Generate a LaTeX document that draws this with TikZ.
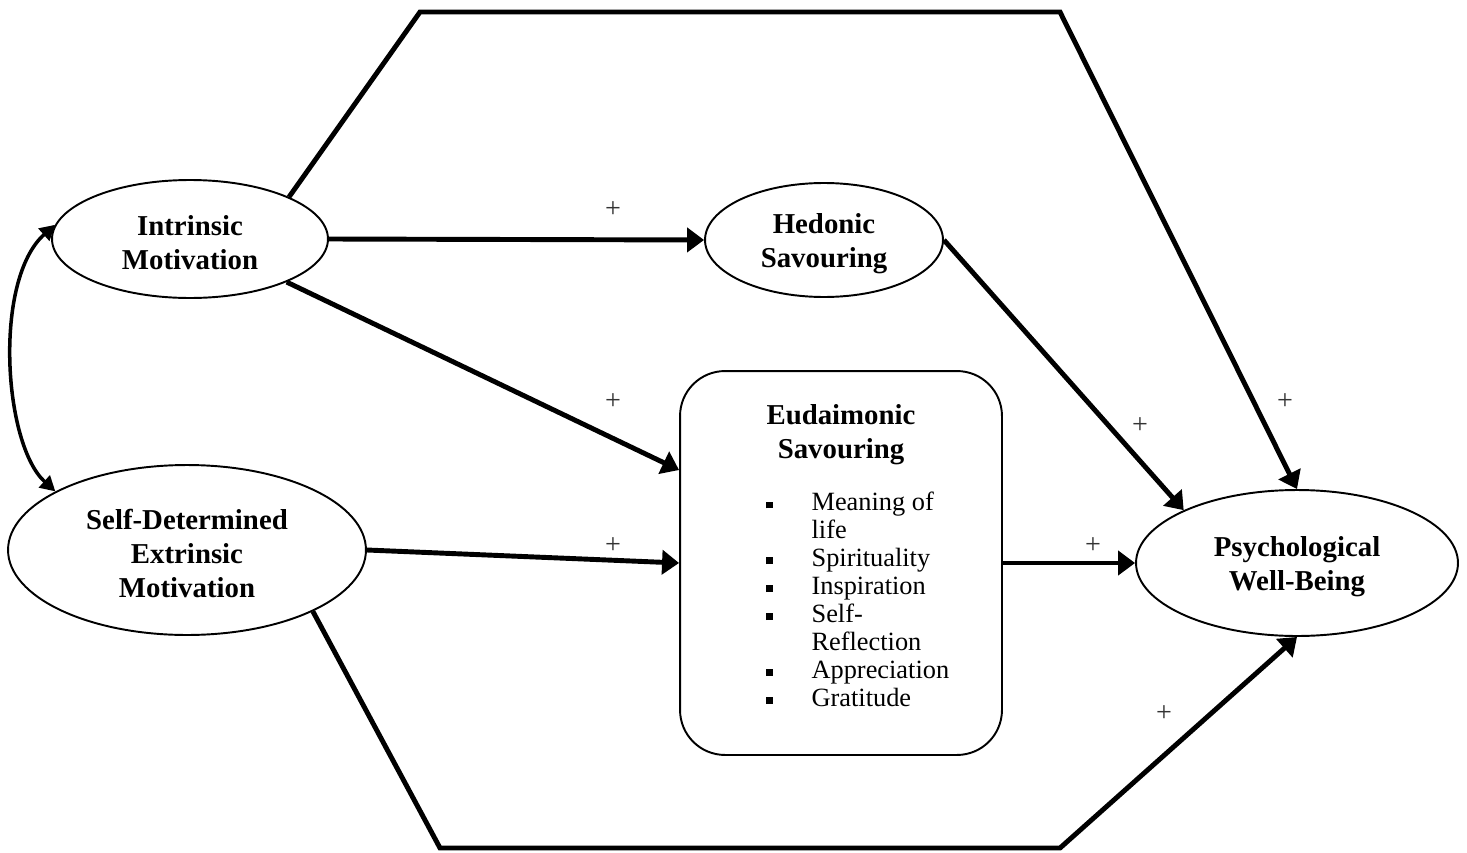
\documentclass[tikz,border=0pt]{standalone}
\usepackage{fontspec}
\setmainfont{Liberation Serif}
\usetikzlibrary{shapes.geometric,arrows.meta,calc}

% extra room above the first line of a latent label
\newcommand{\toproom}{\rule{0pt}{15.2pt}}

\begin{document}
\begin{tikzpicture}[x=0.02cm,y=-0.02cm,
  latent/.style={ellipse,draw,line width=1.1pt,inner sep=0pt,align=center,
    font=\fontsize{16.4}{19.3}\selectfont\bfseries},
  effect/.style={line width=2.8pt,-{Triangle[length=0.34cm,width=0.48cm]}},
  corr/.style={line width=2pt,{Triangle[length=0.3cm,width=0.32cm]}-{Triangle[length=0.3cm,width=0.32cm]}},
  sign/.style={font=\fontsize{16}{18}\selectfont,text=black!80}
]
\useasboundingbox (0,0) rectangle (1467,852);

% latent variables
\node[latent,minimum width=5.52cm,minimum height=2.36cm] (im) at (190,239) {\toproom Intrinsic\\Motivation};
\node[latent,minimum width=7.16cm,minimum height=3.4cm] (se) at (187,550) {\toproom Self-Determined\\Extrinsic\\Motivation};
\node[latent,minimum width=4.76cm,minimum height=2.28cm] (hs) at (824,240) {\toproom Hedonic\\Savouring};
\node[latent,minimum width=6.44cm,minimum height=2.92cm] (pw) at (1297,563) {\toproom Psychological\\Well-Being};

% eudaimonic savouring box with its facets
\node[draw,line width=1.1pt,rounded corners=0.9cm,minimum width=6.44cm,minimum height=7.68cm] (eu) at (841,563) {};
\node[align=center,font=\fontsize{16.4}{19.3}\selectfont\bfseries] (eut) at (841,435) {Eudaimonic\\Savouring};
\newcommand{\facetmark}{\rule[0.05cm]{0.135cm}{0.135cm}}
\node[anchor=west,inner sep=0pt,font=\fontsize{15}{15.9}\selectfont] (eul) at (766,603) {%
  \begin{tabular}{@{}l@{\hspace{0.77cm}}l@{}}
  \facetmark & Meaning of\\
             & life\\
  \facetmark & Spirituality\\
  \facetmark & Inspiration\\
  \facetmark & Self-\\
             & Reflection\\
  \facetmark & Appreciation\\
  \facetmark & Gratitude
  \end{tabular}};

% corner points of the direct paths
\coordinate (tl) at (420,12);
\coordinate (tr) at (1060,12);
\coordinate (bl) at (440,848);
\coordinate (br) at (1060,848);

% paths
\draw[effect] (im.east) -- (hs.west);
\draw[effect] (im.-24) -- ([yshift=1.86cm]eu.west);
\draw[effect] (se.east) -- (eu.west);
\draw[effect] (hs.east) -- (pw.155);
\draw[effect] (eu.east) -- (pw.west);
\draw[effect] (im.23) -- (tl) -- (tr) -- (pw.north);
\draw[effect] (se.-26) -- (bl) -- (br) -- (pw.south);

% correlation between the motivations
\draw[corr] (se.156) .. controls +(-52,-47) and +(-62,55) .. (im.174);

% signs
\node[sign] (s1) at (613,210) {+};
\node[sign] (s2) at (613,402) {+};
\node[sign] (s3) at (613,546) {+};
\node[sign] (s4) at (1093,546) {+};
\node[sign] (s5) at (1140,426) {+};
\node[sign] (s6) at (1285,402) {+};
\node[sign] (s7) at (1164,714) {+};
\end{tikzpicture}
\end{document}
